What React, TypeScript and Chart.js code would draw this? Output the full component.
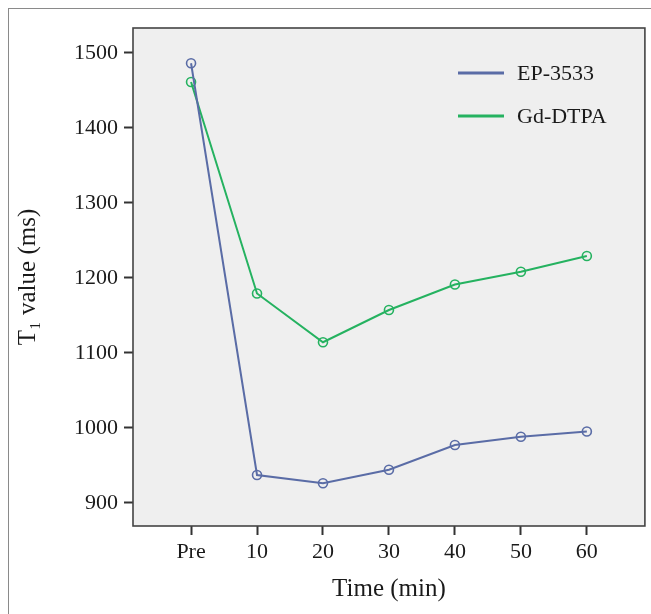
import React, { useEffect, useRef } from "react";
import { Chart, registerables } from "chart.js";

Chart.register(...registerables);

const categories = ["Pre", "10", "20", "30", "40", "50", "60"];
const ep3533 = [1486, 937, 926, 944, 977, 988, 995];
const gdDtpa = [1461, 1179, 1114, 1157, 1191, 1208, 1229];
const seriesNames = ["EP-3533", "Gd-DTPA"];
const seriesColors = ["#5a6ca6", "#25b260"];
const yTicks = [900, 1000, 1100, 1200, 1300, 1400, 1500];

const FONT = "'Liberation Serif', 'DejaVu Serif', serif";

const plotDecor = {
  id: "plotDecor",
  beforeDatasetsDraw(chart: any) {
    const { ctx, chartArea: a } = chart;
    ctx.save();
    ctx.fillStyle = "#efefef";
    ctx.fillRect(a.left, a.top, a.right - a.left, a.bottom - a.top);
    ctx.restore();
  },
  afterDatasetsDraw(chart: any) {
    const { ctx, chartArea: a } = chart;
    ctx.save();
    ctx.strokeStyle = "#444444";
    ctx.lineWidth = 1.6;
    ctx.strokeRect(a.left, a.top, a.right - a.left, a.bottom - a.top);
    // legend
    const x0 = a.left + 325;
    const y0 = a.top + 45;
    chart.data.datasets.forEach((ds: any, i: number) => {
      const y = y0 + i * 43;
      ctx.strokeStyle = ds.borderColor;
      ctx.lineWidth = 3;
      ctx.beginPath();
      ctx.moveTo(x0, y);
      ctx.lineTo(x0 + 46, y);
      ctx.stroke();
      ctx.fillStyle = "#1a1a1a";
      ctx.font = `22px ${FONT}`;
      ctx.textBaseline = "middle";
      ctx.textAlign = "left";
      ctx.fillText(ds.label, x0 + 59, y + 1);
    });
    ctx.restore();
  },
};

export default function App() {
  const ref = useRef<HTMLCanvasElement>(null);
  useEffect(() => {
    if (!ref.current) return;
    const mk = (vals: number[]) => vals.map((v, i) => ({ x: i, y: v }));
    const chart = new Chart(ref.current, {
      type: "line",
      data: {
        datasets: [
          {
            label: seriesNames[0],
            data: mk(ep3533),
            borderColor: seriesColors[0],
            backgroundColor: "rgba(0,0,0,0)",
            borderWidth: 2,
            pointRadius: 4.5,
            pointBorderWidth: 1.6,
            pointBackgroundColor: "rgba(0,0,0,0)",
            pointBorderColor: seriesColors[0],
            tension: 0,
          },
          {
            label: seriesNames[1],
            data: mk(gdDtpa),
            borderColor: seriesColors[1],
            backgroundColor: "rgba(0,0,0,0)",
            borderWidth: 2,
            pointRadius: 4.5,
            pointBorderWidth: 1.6,
            pointBackgroundColor: "rgba(0,0,0,0)",
            pointBorderColor: seriesColors[1],
            tension: 0,
          },
        ],
      },
      options: {
        animation: false,
        responsive: false,
        maintainAspectRatio: false,
        layout: { padding: { left: 0, top: 28, right: 3, bottom: 0 } },
        plugins: {
          legend: { display: false },
          tooltip: { enabled: false },
        },
        scales: {
          x: {
            type: "linear",
            min: -0.88,
            max: 6.88,
            afterBuildTicks: (s: any) => {
              s.ticks = categories.map((_, i) => ({ value: i }));
            },
            afterFit: (s: any) => {
              s.height = 88;
            },
            ticks: {
              callback: (v: any) => categories[v as number],
              color: "#1a1a1a",
              font: { family: FONT, size: 22 },
              padding: 4,
              maxRotation: 0,
              autoSkip: false,
            },
            grid: {
              drawOnChartArea: false,
              drawTicks: true,
              tickLength: 9,
              tickWidth: 2,
              tickColor: "#333333",
            },
            border: { display: false },
            title: {
              display: true,
              text: "Time (min)",
              color: "#1a1a1a",
              font: { family: FONT, size: 25 },
              padding: { top: 0, bottom: 10 },
            },
          },
          y: {
            type: "linear",
            min: 869,
            max: 1533,
            afterBuildTicks: (s: any) => {
              s.ticks = yTicks.map((v) => ({ value: v }));
            },
            afterFit: (s: any) => {
              s.width = 133;
            },
            ticks: {
              callback: (v: any) => String(v),
              color: "#1a1a1a",
              font: { family: FONT, size: 22 },
              padding: 6,
            },
            grid: {
              drawOnChartArea: false,
              drawTicks: true,
              tickLength: 9,
              tickWidth: 2,
              tickColor: "#333333",
            },
            border: { display: false },
            title: {
              display: true,
              text: "T\u2081 value (ms)",
              color: "#1a1a1a",
              font: { family: FONT, size: 25 },
              padding: { top: 13, bottom: 0 },
            },
          },
        },
      },
      plugins: [plotDecor],
    });
    return () => chart.destroy();
  }, []);

  return (
    <div
      style={{
        position: "fixed",
        left: 0,
        top: 0,
        width: 651,
        height: 614,
        overflow: "hidden",
        background: "#ffffff",
      }}
    >
      <div
        style={{
          position: "absolute",
          left: 8,
          top: 8,
          right: 0,
          bottom: 0,
          borderLeft: "1.5px solid #8a8a8a",
          borderTop: "1.5px solid #8a8a8a",
        }}
      />
      <canvas
        ref={ref}
        width={651}
        height={614}
        style={{ position: "absolute", left: 0, top: 0, width: 651, height: 614 }}
      />
    </div>
  );
}
